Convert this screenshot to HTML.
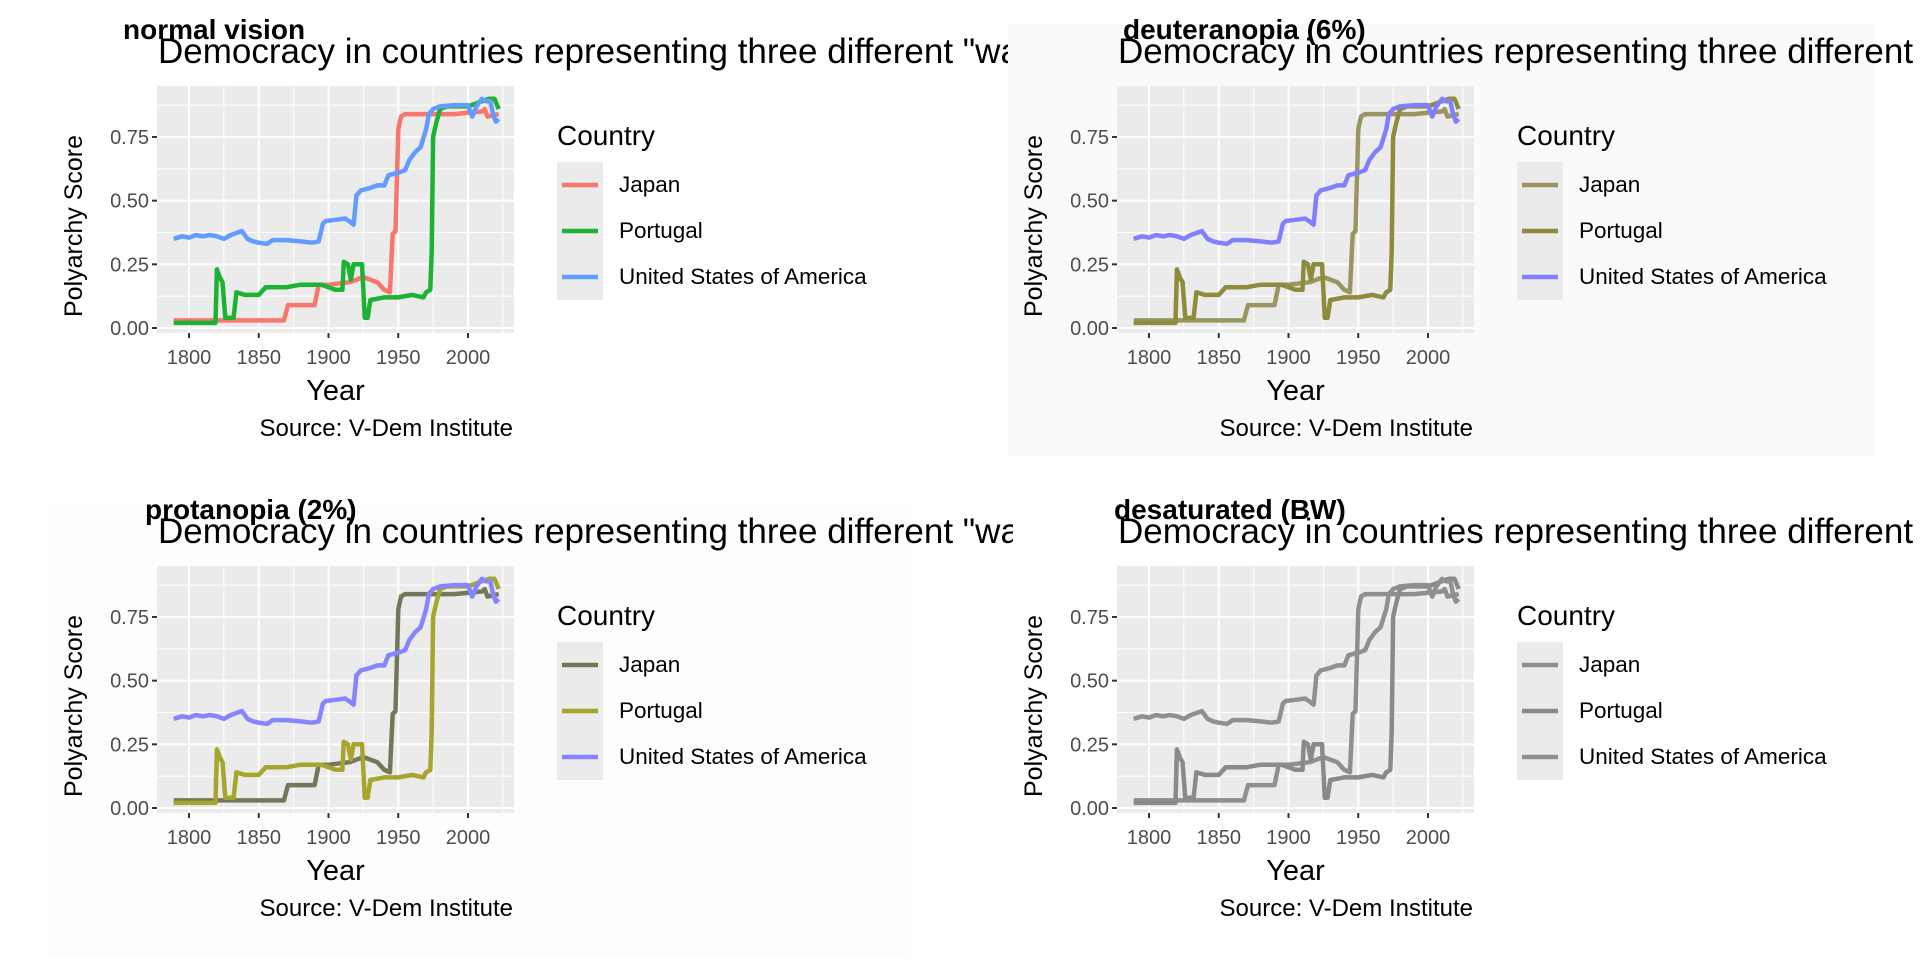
<!DOCTYPE html>
<html><head><meta charset="utf-8">
<style>
html,body{margin:0;padding:0;background:#fff;}
svg{display:block;font-family:"Liberation Sans",Arial,sans-serif;}
</style></head>
<body>
<svg id="s" width="1920" height="960" xmlns="http://www.w3.org/2000/svg"></svg>
<script>
const S=document.getElementById('s');
const NS='http://www.w3.org/2000/svg';
function el(t,a,txt,parent){const e=document.createElementNS(NS,t);for(const k in a)e.setAttribute(k,a[k]);if(txt!=null)e.textContent=txt;(parent||S).appendChild(e);return e;}
const USA=[[1789,.35],[1795,.36],[1800,.355],[1805,.365],[1810,.36],[1815,.365],[1820,.36],[1825,.35],[1830,.365],[1835,.375],[1838,.38],[1842,.35],[1846,.34],[1850,.335],[1856,.33],[1860,.345],[1870,.345],[1880,.34],[1888,.335],[1893,.34],[1896,.41],[1898,.42],[1905,.425],[1912,.43],[1916,.415],[1918,.405],[1920,.52],[1923,.54],[1930,.55],[1935,.56],[1940,.56],[1943,.6],[1950,.61],[1955,.62],[1958,.66],[1962,.69],[1966,.71],[1970,.78],[1972,.84],[1975,.86],[1980,.87],[1990,.875],[2000,.875],[2003,.83],[2006,.87],[2010,.9],[2013,.89],[2016,.89],[2018,.84],[2020,.81],[2022,.82]];
const JPN=[[1789,.03],[1868,.03],[1871,.09],[1890,.09],[1893,.17],[1900,.17],[1915,.18],[1925,.2],[1935,.18],[1940,.15],[1944,.14],[1946,.37],[1948,.38],[1950,.78],[1952,.83],[1955,.84],[1970,.84],[1990,.84],[2000,.845],[2010,.85],[2012,.86],[2014,.83],[2022,.84]];
const PRT=[[1789,.02],[1819,.02],[1820,.23],[1822,.2],[1824,.18],[1826,.04],[1832,.04],[1834,.14],[1840,.13],[1850,.13],[1855,.16],[1870,.16],[1880,.17],[1895,.17],[1905,.15],[1910,.15],[1911,.26],[1914,.25],[1916,.19],[1918,.25],[1924,.25],[1926,.04],[1928,.04],[1930,.11],[1940,.12],[1950,.12],[1960,.13],[1968,.12],[1970,.14],[1973,.15],[1974,.3],[1975,.75],[1977,.8],[1980,.86],[1985,.87],[2000,.87],[2010,.89],[2015,.9],[2019,.9],[2022,.86]];
const SUB='Democracy in countries representing three different "waves" of democratization';
function panel(ox,oy,title,tx,cols,bg,clipR){
  if(bg) el('rect',{x:bg[0],y:bg[1],width:bg[2],height:bg[3],fill:bg[4]});
  const cid='c'+ox+'_'+oy;
  const cp=el('clipPath',{id:cid});el('rect',{x:ox,y:oy,width:clipR-ox,height:480},null,cp);
  el('text',{x:tx,y:oy+39,'font-size':28,'font-weight':'bold',fill:'#000'},title);
  el('text',{x:ox+158,y:oy+63,'font-size':35,fill:'#000','clip-path':`url(#${cid})`},SUB);
  const L=ox+157,R=ox+514,T=oy+86,B=oy+333;
  const X=y=>ox+189+(y-1800)*1.395, Y=v=>oy+328-v*254.7;
  el('rect',{x:L,y:T,width:R-L,height:B-T,fill:'#ebebeb'});
  for(const v of [.125,.375,.625,.875]) el('line',{x1:L,x2:R,y1:Y(v),y2:Y(v),stroke:'#fff','stroke-width':1});
  for(const y of [1825,1875,1925,1975,2025]) el('line',{x1:X(y),x2:X(y),y1:T,y2:B,stroke:'#fff','stroke-width':1});
  for(const v of [0,.25,.5,.75]){el('line',{x1:L,x2:R,y1:Y(v),y2:Y(v),stroke:'#fff','stroke-width':2});
    el('line',{x1:L-5,x2:L,y1:Y(v),y2:Y(v),stroke:'#333','stroke-width':2});
    el('text',{x:L-8,y:Y(v)+7,'font-size':20,fill:'#4d4d4d','text-anchor':'end'},v.toFixed(2));}
  for(const y of [1800,1850,1900,1950,2000]){el('line',{x1:X(y),x2:X(y),y1:T,y2:B,stroke:'#fff','stroke-width':2});
    el('line',{x1:X(y),x2:X(y),y1:B,y2:B+5,stroke:'#333','stroke-width':2});
    el('text',{x:X(y),y:B+31,'font-size':20,fill:'#4d4d4d','text-anchor':'middle'},y);}
  const ser=[JPN,PRT,USA];
  ser.forEach((d,i)=>el('polyline',{points:d.map(p=>X(p[0]).toFixed(1)+','+Y(p[1]).toFixed(1)).join(' '),fill:'none',stroke:cols[i],'stroke-width':4.5,'stroke-linejoin':'round'}));
  el('text',{x:(L+R)/2,y:oy+400,'font-size':29,'text-anchor':'middle',fill:'#000'},'Year');
  el('text',{x:0,y:0,'font-size':25,'text-anchor':'middle',fill:'#000',transform:`translate(${ox+82},${oy+226}) rotate(-90)`},'Polyarchy Score');
  el('text',{x:ox+557,y:oy+145,'font-size':28,fill:'#000'},'Country');
  el('rect',{x:ox+557,y:oy+162,width:46,height:138,fill:'#ebebeb'});
  const names=['Japan','Portugal','United States of America'];
  names.forEach((n,i)=>{const cy=oy+185+i*46;
    el('line',{x1:ox+562,x2:ox+598,y1:cy,y2:cy,stroke:cols[i],'stroke-width':4.5});
    el('text',{x:ox+619,y:cy+7,'font-size':22.5,fill:'#000'},n);});
  el('text',{x:ox+513,y:oy+436,'font-size':24,'text-anchor':'end',fill:'#000'},'Source: V-Dem Institute');
}
panel(0,0,'normal vision',123,['#F8766D','#1DB233','#619CFF'],null,1008);
panel(960,0,'deuteranopia (6%)',1123,['#9a9662','#8e8b3c','#8080ff'],[1008,24,867,432,'#fafafa'],1920);
panel(0,480,'protanopia (2%)',145,['#76775a','#a6a52e','#8585ff'],[46,504,864,452,'#fdfdfd'],1013);
el('rect',{x:1013,y:480,width:907,height:480,fill:'#fff'});
panel(960,480,'desaturated (BW)',1114,['#8f8f8f','#8a8a8a','#909090'],null,1920);
</script>
</body></html>
